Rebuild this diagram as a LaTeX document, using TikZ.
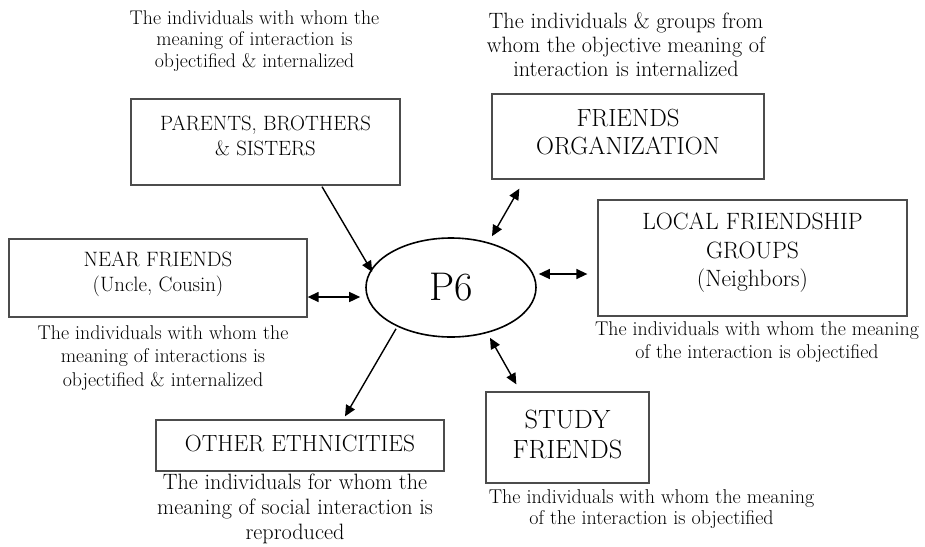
\documentclass[tikz,border=0pt]{standalone}
\usetikzlibrary{arrows.meta,shapes.geometric}
\newcommand{\fs}[2]{\fontsize{#1}{#2}\selectfont}
\begin{document}
\begin{tikzpicture}[x=1pt,y=-1pt,
  box/.style={draw=black!70, line width=1.3pt, rectangle, inner sep=0pt},
  lbl/.style={align=center, inner sep=0pt, text=black},
  conn/.style={line width=1.4pt, draw=black},
  oneway/.style={conn, -{Triangle[length=11pt,width=10pt]}},
  twoway/.style={conn, {Triangle[length=11pt,width=10pt]}-{Triangle[length=11pt,width=10pt]}},
]
\useasboundingbox (0,0) rectangle (925,546);

% central ellipse
\node[ellipse, draw=black, line width=1.6pt, minimum width=170pt, minimum height=99pt, inner sep=0pt, font=\fs{40}{44}] (p6) at (451,287.5) {P6};

% boxes
\node[box, minimum width=269pt, minimum height=86pt] (parents) at (265.5,142) {};
\node[lbl, font=\fs{20.7}{25}] (parentsT) at (265.5,136) {PARENTS, BROTHERS\\\& SISTERS};

\node[box, minimum width=272pt, minimum height=85pt] (org) at (628,136.5) {};
\node[lbl, font=\fs{24.8}{28}] (orgT) at (628,132) {FRIENDS\\ORGANIZATION};

\node[box, minimum width=309pt, minimum height=116pt] (local) at (752.5,258) {};
\node[lbl, font=\fs{23.6}{28.5}] (localT) at (752.5,253) {LOCAL FRIENDSHIP\\GROUPS\\(Neighbors)};

\node[box, minimum width=298pt, minimum height=78pt] (near) at (158,278) {};
\node[lbl, font=\fs{20.8}{25}] (nearT) at (158,274) {NEAR FRIENDS\\(Uncle, Cousin)};

\node[box, minimum width=288pt, minimum height=51pt] (other) at (300,445.5) {};
\node[lbl, font=\fs{23.4}{26}] (otherT) at (300,444) {OTHER ETHNICITIES};

\node[box, minimum width=163pt, minimum height=91pt] (study) at (567.5,437.5) {};
\node[lbl, font=\fs{26.4}{30}] (studyT) at (567.5,434) {STUDY\\FRIENDS};

% annotations
\node[lbl, font=\fs{19.8}{21.7}] (annParents) at (254.5,41) {The individuals with whom the\\meaning of interaction is\\objectified \& internalized};
\node[lbl, font=\fs{22.2}{24}] (annOrg) at (626,45) {The individuals \& groups from\\whom the objective meaning of\\interaction is internalized};
\node[lbl, font=\fs{19.9}{22.7}] (annLocal) at (757,342) {The individuals with whom the meaning\\of the interaction is objectified};
\node[lbl, font=\fs{19.9}{23.5}] (annNear) at (163,358) {The individuals with whom the\\meaning of interactions is\\objectified \& internalized};
\node[lbl, font=\fs{22.2}{25}] (annOther) at (295,509) {The individuals for whom the\\meaning of social interaction is\\reproduced};
\node[lbl, font=\fs{20}{21}] (annStudy) at (651.5,509.5) {The individuals with whom the meaning\\of the interaction is objectified};

% connectors
\draw[oneway] ([xshift=56.5pt,yshift=-1pt]parents.south) -- ([xshift=7pt,yshift=15.5pt]p6.west);
\draw[twoway] ([yshift=-19pt]near.east) -- ([xshift=-5pt,yshift=-9.5pt]p6.west);
\draw[twoway] ([xshift=28pt,yshift=-9pt]org.south west) -- ([xshift=41pt,yshift=1pt]p6.north);
\draw[twoway] ([xshift=2pt,yshift=13.5pt]p6.east) -- ([xshift=-10pt,yshift=-16pt]local.west);
\draw[twoway] ([xshift=39pt,yshift=0pt]p6.south) -- ([xshift=31pt,yshift=7pt]study.north west);
\draw[oneway] ([xshift=-55pt,yshift=9pt]p6.south) -- ([xshift=45pt,yshift=3pt]other.north);
\end{tikzpicture}
\end{document}
